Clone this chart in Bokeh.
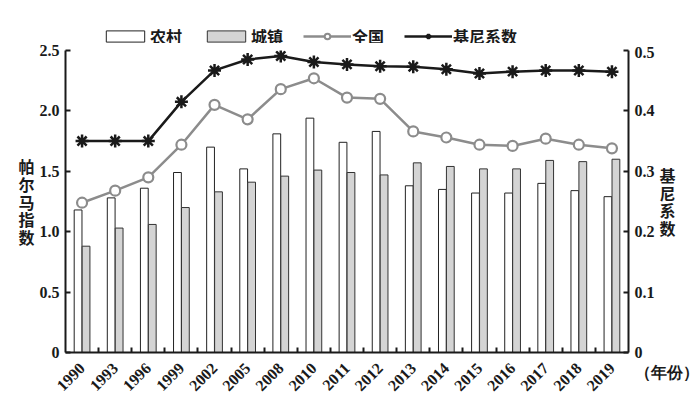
import math
from bokeh.plotting import figure
from bokeh.layouts import column
from bokeh.models import (Range1d, LinearAxis, FixedTicker, Legend, LegendItem,
                          ColumnDataSource)
from bokeh.transform import dodge
from bokeh.embed import file_html
from bokeh.resources import INLINE

years = ["1990", "1993", "1996", "1999", "2002", "2005", "2008", "2010", "2011",
         "2012", "2013", "2014", "2015", "2016", "2017", "2018", "2019"]
rural = [1.18, 1.28, 1.36, 1.49, 1.70, 1.52, 1.81, 1.94, 1.74,
         1.83, 1.38, 1.35, 1.32, 1.32, 1.40, 1.34, 1.29]
urban = [0.88, 1.03, 1.06, 1.20, 1.33, 1.41, 1.46, 1.51, 1.49,
         1.47, 1.57, 1.54, 1.52, 1.52, 1.59, 1.58, 1.60]
national = [1.24, 1.34, 1.45, 1.72, 2.05, 1.93, 2.18, 2.27, 2.11,
            2.10, 1.83, 1.78, 1.72, 1.71, 1.77, 1.72, 1.69]
gini = [0.350, 0.350, 0.350, 0.415, 0.467, 0.485, 0.491, 0.481, 0.477,
        0.474, 0.473, 0.469, 0.462, 0.465, 0.467, 0.467, 0.465]

left_ticks = [0, 0.5, 1.0, 1.5, 2.0, 2.5]
left_tick_labels = ["0", "0.5", "1.0", "1.5", "2.0", "2.5"]
right_ticks = [0, 0.1, 0.2, 0.3, 0.4, 0.5]
right_tick_labels = ["0", "0.1", "0.2", "0.3", "0.4", "0.5"]

series_names = ["农村", "城镇", "全国", "基尼系数"]
left_title = "帕尔马指数"
right_title = "基尼系数"
x_unit = "（年份）"

idx = list(range(len(years)))
src = ColumnDataSource(dict(x=idx, rural=rural, urban=urban,
                            national=national, gini=gini))

INK = "#1a1a1a"
SERIF = "Liberation Serif"
CJK = "Noto Sans CJK SC"
RURAL_STYLE = dict(fill_color="white", line_color="#222222", line_width=1)
URBAN_STYLE = dict(fill_color="#d4d4d4", line_color="#333333", line_width=1)
NAT_LINE = dict(line_color="#8c8c8c", line_width=2.5)
NAT_MARK = dict(marker="circle", size=10, fill_color="white",
                line_color="#8c8c8c", line_width=2.2)
GINI_LINE = dict(line_color=INK, line_width=2.5)
GINI_MARK = dict(marker="asterisk", size=13, line_color=INK, line_width=2.5)

FIG_W = 697

p = figure(frame_width=563, frame_height=302,
           x_range=Range1d(-0.5, len(years) - 0.5), y_range=Range1d(0, 2.5),
           output_backend="svg", toolbar_location=None,
           min_border_left=65, min_border_right=FIG_W - 65 - 563, min_border_top=7,
           min_border_bottom=42)
p.extra_y_ranges = {"gini": Range1d(0, 0.5)}
p.outline_line_color = None
p.grid.visible = False
p.background_fill_color = "white"

p.vbar(x=dodge("x", -0.12), top="rural", width=0.235, source=src, **RURAL_STYLE)
p.vbar(x=dodge("x", 0.12), top="urban", width=0.235, source=src, **URBAN_STYLE)
p.line("x", "national", source=src, **NAT_LINE)
p.scatter("x", "national", source=src, **NAT_MARK)
p.line("x", "gini", source=src, y_range_name="gini", **GINI_LINE)
p.scatter("x", "gini", source=src, y_range_name="gini", **GINI_MARK)

def style_axis(ax):
    ax.axis_line_width = 2
    ax.axis_line_color = INK
    ax.major_tick_line_color = INK
    ax.major_tick_line_width = 2
    ax.minor_tick_line_color = INK
    ax.minor_tick_line_width = 2
    ax.major_label_text_font = SERIF
    ax.major_label_text_font_size = "16px"
    ax.major_label_text_color = INK
    ax.major_label_text_font_style = "bold"
    ax.axis_label_text_font = CJK
    ax.axis_label_text_font_size = "16px"
    ax.axis_label_text_font_style = "bold"
    ax.axis_label_text_color = INK

# x axis
xa = p.xaxis[0]
style_axis(xa)
xa.ticker = FixedTicker(ticks=idx, minor_ticks=[i - 0.5 for i in range(1, len(years))])
xa.major_label_overrides = {i: y for i, y in zip(idx, years)}
xa.major_tick_in = 0
xa.major_tick_out = 0
xa.minor_tick_in = 5
xa.minor_tick_out = 0
xa.major_label_orientation = math.pi / 4
xa.major_label_standoff = 13

# left axis
ya = p.yaxis[0]
style_axis(ya)
ya.ticker = FixedTicker(ticks=left_ticks)
ya.major_label_overrides = {t: l for t, l in zip(left_ticks, left_tick_labels)}
ya.major_tick_in = 5
ya.major_tick_out = 0
ya.minor_tick_in = 0
ya.minor_tick_out = 0
ya.major_label_standoff = 6
ya.axis_label = "\n".join(left_title)
ya.axis_label_orientation = "horizontal"
ya.axis_label_standoff = 2
ya.axis_label_text_line_height = 0.73

# right axis; the year unit sits under its "0" label
ra = LinearAxis(y_range_name="gini", ticker=FixedTicker(ticks=right_ticks))
style_axis(ra)
overrides = {t: l for t, l in zip(right_ticks, right_tick_labels)}
overrides[right_ticks[0]] = "\u00a0\n" + right_tick_labels[0] + "\n" + x_unit
ra.major_label_overrides = overrides
ra.major_tick_in = 5
ra.major_tick_out = 0
ra.minor_tick_in = 0
ra.minor_tick_out = 0
ra.major_label_standoff = 6
ra.axis_label = "\n".join(right_title)
ra.axis_label_orientation = "horizontal"
ra.axis_label_standoff = -42
ra.axis_label_text_line_height = 0.73
p.add_layout(ra, "right")

# legend strip above the chart (proxy glyphs carry no visible data)
lg = figure(width=FIG_W, height=43, output_backend="svg", toolbar_location=None,
            x_range=Range1d(0, 1), y_range=Range1d(0, 1),
            x_axis_location=None, y_axis_location=None, min_border=0)
lg.outline_line_color = None
lg.grid.visible = False
proxy = ColumnDataSource(dict(x=[float("nan")], y=[float("nan")]))
g1 = lg.vbar(x="x", top="y", width=0.1, source=proxy, **RURAL_STYLE)
g2 = lg.vbar(x="x", top="y", width=0.1, source=proxy, **URBAN_STYLE)
g3 = lg.line("x", "y", source=proxy, **NAT_LINE)
g4 = lg.scatter("x", "y", source=proxy, marker="circle", size=9,
                fill_color="white", line_color="#8c8c8c", line_width=2)
g5 = lg.line("x", "y", source=proxy, **GINI_LINE)
g6 = lg.scatter("x", "y", source=proxy, **GINI_MARK)
legend = Legend(items=[LegendItem(label=series_names[0], renderers=[g1]),
                       LegendItem(label=series_names[1], renderers=[g2]),
                       LegendItem(label=series_names[2], renderers=[g3, g4]),
                       LegendItem(label=series_names[3], renderers=[g5, g6])],
                orientation="horizontal", location=(36, -4.5),
                background_fill_alpha=0, border_line_color=None,
                padding=0, margin=0, spacing=20, glyph_width=48,
                glyph_height=14, label_standoff=1,
                label_text_font=CJK, label_text_font_size="16px",
                label_text_font_style="bold", label_text_color=INK)
lg.add_layout(legend)

layout = column(lg, p, spacing=0)
open("out.html", "w").write(file_html(layout, INLINE))
